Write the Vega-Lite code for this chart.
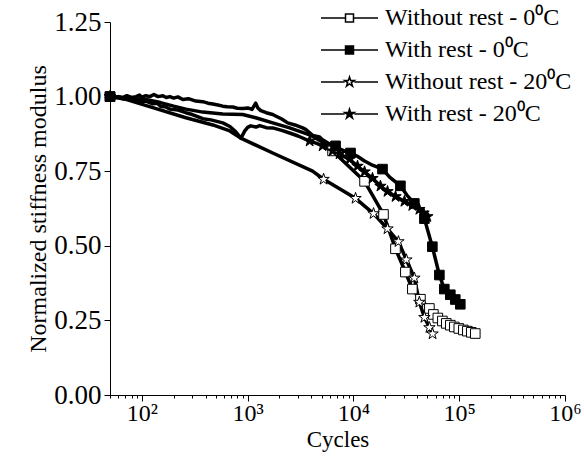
{
  "$schema": "https://vega.github.io/schema/vega-lite/v6.json",
  "width": 455,
  "height": 373,
  "autosize": {"type": "none"},
  "padding": {"left": 110, "top": 22, "right": 19, "bottom": 68},
  "background": "white",
  "config": {"view": {"stroke": null}, "font": "Liberation Serif"},
  "datasets": {
    "curves": [
      {"series": "Without rest - 0⁰C", "cycles": 50, "modulus": 1.0},
      {"series": "Without rest - 0⁰C", "cycles": 72, "modulus": 0.995},
      {"series": "Without rest - 0⁰C", "cycles": 109, "modulus": 0.99},
      {"series": "Without rest - 0⁰C", "cycles": 150, "modulus": 0.98},
      {"series": "Without rest - 0⁰C", "cycles": 200, "modulus": 0.968},
      {"series": "Without rest - 0⁰C", "cycles": 261, "modulus": 0.958},
      {"series": "Without rest - 0⁰C", "cycles": 377, "modulus": 0.948},
      {"series": "Without rest - 0⁰C", "cycles": 582, "modulus": 0.942},
      {"series": "Without rest - 0⁰C", "cycles": 899, "modulus": 0.94},
      {"series": "Without rest - 0⁰C", "cycles": 1192, "modulus": 0.929},
      {"series": "Without rest - 0⁰C", "cycles": 1726, "modulus": 0.912},
      {"series": "Without rest - 0⁰C", "cycles": 2495, "modulus": 0.895},
      {"series": "Without rest - 0⁰C", "cycles": 3855, "modulus": 0.872},
      {"series": "Without rest - 0⁰C", "cycles": 5000, "modulus": 0.85},
      {"series": "Without rest - 0⁰C", "cycles": 6350, "modulus": 0.818},
      {"series": "Without rest - 0⁰C", "cycles": 12740, "modulus": 0.716},
      {"series": "Without rest - 0⁰C", "cycles": 19240, "modulus": 0.605},
      {"series": "Without rest - 0⁰C", "cycles": 24970, "modulus": 0.49},
      {"series": "Without rest - 0⁰C", "cycles": 30980, "modulus": 0.412},
      {"series": "Without rest - 0⁰C", "cycles": 36060, "modulus": 0.355},
      {"series": "Without rest - 0⁰C", "cycles": 43000, "modulus": 0.321},
      {"series": "Without rest - 0⁰C", "cycles": 52240, "modulus": 0.29},
      {"series": "Without rest - 0⁰C", "cycles": 57000, "modulus": 0.27},
      {"series": "Without rest - 0⁰C", "cycles": 62800, "modulus": 0.258},
      {"series": "Without rest - 0⁰C", "cycles": 69300, "modulus": 0.248},
      {"series": "Without rest - 0⁰C", "cycles": 75500, "modulus": 0.24},
      {"series": "Without rest - 0⁰C", "cycles": 82400, "modulus": 0.234},
      {"series": "Without rest - 0⁰C", "cycles": 89900, "modulus": 0.228},
      {"series": "Without rest - 0⁰C", "cycles": 99100, "modulus": 0.223},
      {"series": "Without rest - 0⁰C", "cycles": 109400, "modulus": 0.218},
      {"series": "Without rest - 0⁰C", "cycles": 119400, "modulus": 0.214},
      {"series": "Without rest - 0⁰C", "cycles": 130000, "modulus": 0.21},
      {"series": "Without rest - 0⁰C", "cycles": 141900, "modulus": 0.206},

      {"series": "With rest - 0⁰C", "cycles": 50, "modulus": 1.0},
      {"series": "With rest - 0⁰C", "cycles": 55, "modulus": 0.995},
      {"series": "With rest - 0⁰C", "cycles": 60, "modulus": 1.0},
      {"series": "With rest - 0⁰C", "cycles": 66, "modulus": 0.997},
      {"series": "With rest - 0⁰C", "cycles": 72, "modulus": 1.003},
      {"series": "With rest - 0⁰C", "cycles": 80, "modulus": 0.997},
      {"series": "With rest - 0⁰C", "cycles": 88, "modulus": 1.0},
      {"series": "With rest - 0⁰C", "cycles": 95, "modulus": 1.005},
      {"series": "With rest - 0⁰C", "cycles": 100, "modulus": 0.998},
      {"series": "With rest - 0⁰C", "cycles": 109, "modulus": 1.003},
      {"series": "With rest - 0⁰C", "cycles": 119, "modulus": 1.0},
      {"series": "With rest - 0⁰C", "cycles": 130, "modulus": 1.007},
      {"series": "With rest - 0⁰C", "cycles": 142, "modulus": 1.0},
      {"series": "With rest - 0⁰C", "cycles": 158, "modulus": 1.003},
      {"series": "With rest - 0⁰C", "cycles": 170, "modulus": 0.997},
      {"series": "With rest - 0⁰C", "cycles": 184, "modulus": 1.0},
      {"series": "With rest - 0⁰C", "cycles": 200, "modulus": 0.995},
      {"series": "With rest - 0⁰C", "cycles": 219, "modulus": 0.999},
      {"series": "With rest - 0⁰C", "cycles": 244, "modulus": 0.99},
      {"series": "With rest - 0⁰C", "cycles": 275, "modulus": 0.993},
      {"series": "With rest - 0⁰C", "cycles": 324, "modulus": 0.985},
      {"series": "With rest - 0⁰C", "cycles": 377, "modulus": 0.983},
      {"series": "With rest - 0⁰C", "cycles": 421, "modulus": 0.978},
      {"series": "With rest - 0⁰C", "cycles": 469, "modulus": 0.975},
      {"series": "With rest - 0⁰C", "cycles": 523, "modulus": 0.972},
      {"series": "With rest - 0⁰C", "cycles": 582, "modulus": 0.968},
      {"series": "With rest - 0⁰C", "cycles": 640, "modulus": 0.966},
      {"series": "With rest - 0⁰C", "cycles": 723, "modulus": 0.965},
      {"series": "With rest - 0⁰C", "cycles": 800, "modulus": 0.961},
      {"series": "With rest - 0⁰C", "cycles": 900, "modulus": 0.96},
      {"series": "With rest - 0⁰C", "cycles": 1002, "modulus": 0.962},
      {"series": "With rest - 0⁰C", "cycles": 1100, "modulus": 0.957},
      {"series": "With rest - 0⁰C", "cycles": 1192, "modulus": 0.978},
      {"series": "With rest - 0⁰C", "cycles": 1250, "modulus": 0.962},
      {"series": "With rest - 0⁰C", "cycles": 1330, "modulus": 0.953},
      {"series": "With rest - 0⁰C", "cycles": 1500, "modulus": 0.946},
      {"series": "With rest - 0⁰C", "cycles": 1726, "modulus": 0.94},
      {"series": "With rest - 0⁰C", "cycles": 1841, "modulus": 0.935},
      {"series": "With rest - 0⁰C", "cycles": 2100, "modulus": 0.925},
      {"series": "With rest - 0⁰C", "cycles": 2389, "modulus": 0.912},
      {"series": "With rest - 0⁰C", "cycles": 2800, "modulus": 0.905},
      {"series": "With rest - 0⁰C", "cycles": 3311, "modulus": 0.895},
      {"series": "With rest - 0⁰C", "cycles": 3533, "modulus": 0.89},
      {"series": "With rest - 0⁰C", "cycles": 4113, "modulus": 0.87},
      {"series": "With rest - 0⁰C", "cycles": 4790, "modulus": 0.865},
      {"series": "With rest - 0⁰C", "cycles": 5112, "modulus": 0.855},
      {"series": "With rest - 0⁰C", "cycles": 5950, "modulus": 0.841},
      {"series": "With rest - 0⁰C", "cycles": 6780, "modulus": 0.835},
      {"series": "With rest - 0⁰C", "cycles": 7390, "modulus": 0.825},
      {"series": "With rest - 0⁰C", "cycles": 8200, "modulus": 0.818},
      {"series": "With rest - 0⁰C", "cycles": 9390, "modulus": 0.811},
      {"series": "With rest - 0⁰C", "cycles": 10900, "modulus": 0.8},
      {"series": "With rest - 0⁰C", "cycles": 12740, "modulus": 0.784},
      {"series": "With rest - 0⁰C", "cycles": 15140, "modulus": 0.77},
      {"series": "With rest - 0⁰C", "cycles": 18830, "modulus": 0.757},
      {"series": "With rest - 0⁰C", "cycles": 22000, "modulus": 0.73},
      {"series": "With rest - 0⁰C", "cycles": 27810, "modulus": 0.701},
      {"series": "With rest - 0⁰C", "cycles": 32000, "modulus": 0.67},
      {"series": "With rest - 0⁰C", "cycles": 37660, "modulus": 0.642},
      {"series": "With rest - 0⁰C", "cycles": 42000, "modulus": 0.62},
      {"series": "With rest - 0⁰C", "cycles": 46880, "modulus": 0.591},
      {"series": "With rest - 0⁰C", "cycles": 55720, "modulus": 0.497},
      {"series": "With rest - 0⁰C", "cycles": 64930, "modulus": 0.402},
      {"series": "With rest - 0⁰C", "cycles": 72300, "modulus": 0.355},
      {"series": "With rest - 0⁰C", "cycles": 82400, "modulus": 0.336},
      {"series": "With rest - 0⁰C", "cycles": 91800, "modulus": 0.32},
      {"series": "With rest - 0⁰C", "cycles": 102400, "modulus": 0.304},

      {"series": "Without rest - 20⁰C", "cycles": 50, "modulus": 1.0},
      {"series": "Without rest - 20⁰C", "cycles": 72, "modulus": 0.99},
      {"series": "Without rest - 20⁰C", "cycles": 127, "modulus": 0.963},
      {"series": "Without rest - 20⁰C", "cycles": 261, "modulus": 0.929},
      {"series": "Without rest - 20⁰C", "cycles": 469, "modulus": 0.905},
      {"series": "Without rest - 20⁰C", "cycles": 678, "modulus": 0.885},
      {"series": "Without rest - 20⁰C", "cycles": 861, "modulus": 0.861},
      {"series": "Without rest - 20⁰C", "cycles": 1726, "modulus": 0.811},
      {"series": "Without rest - 20⁰C", "cycles": 4113, "modulus": 0.75},
      {"series": "Without rest - 20⁰C", "cycles": 5224, "modulus": 0.723},
      {"series": "Without rest - 20⁰C", "cycles": 10470, "modulus": 0.659},
      {"series": "Without rest - 20⁰C", "cycles": 15490, "modulus": 0.608},
      {"series": "Without rest - 20⁰C", "cycles": 20990, "modulus": 0.557},
      {"series": "Without rest - 20⁰C", "cycles": 26640, "modulus": 0.514},
      {"series": "Without rest - 20⁰C", "cycles": 31690, "modulus": 0.453},
      {"series": "Without rest - 20⁰C", "cycles": 37700, "modulus": 0.392},
      {"series": "Without rest - 20⁰C", "cycles": 42000, "modulus": 0.311},
      {"series": "Without rest - 20⁰C", "cycles": 46900, "modulus": 0.26},
      {"series": "Without rest - 20⁰C", "cycles": 52300, "modulus": 0.226},
      {"series": "Without rest - 20⁰C", "cycles": 56000, "modulus": 0.205},

      {"series": "With rest - 20⁰C", "cycles": 50, "modulus": 1.0},
      {"series": "With rest - 20⁰C", "cycles": 55, "modulus": 0.997},
      {"series": "With rest - 20⁰C", "cycles": 60, "modulus": 0.999},
      {"series": "With rest - 20⁰C", "cycles": 66, "modulus": 0.993},
      {"series": "With rest - 20⁰C", "cycles": 72, "modulus": 0.995},
      {"series": "With rest - 20⁰C", "cycles": 80, "modulus": 0.988},
      {"series": "With rest - 20⁰C", "cycles": 88, "modulus": 0.99},
      {"series": "With rest - 20⁰C", "cycles": 100, "modulus": 0.984},
      {"series": "With rest - 20⁰C", "cycles": 109, "modulus": 0.985},
      {"series": "With rest - 20⁰C", "cycles": 127, "modulus": 0.976},
      {"series": "With rest - 20⁰C", "cycles": 140, "modulus": 0.978},
      {"series": "With rest - 20⁰C", "cycles": 150, "modulus": 0.968},
      {"series": "With rest - 20⁰C", "cycles": 170, "modulus": 0.965},
      {"series": "With rest - 20⁰C", "cycles": 184, "modulus": 0.958},
      {"series": "With rest - 20⁰C", "cycles": 220, "modulus": 0.955},
      {"series": "With rest - 20⁰C", "cycles": 261, "modulus": 0.946},
      {"series": "With rest - 20⁰C", "cycles": 300, "modulus": 0.94},
      {"series": "With rest - 20⁰C", "cycles": 377, "modulus": 0.926},
      {"series": "With rest - 20⁰C", "cycles": 450, "modulus": 0.922},
      {"series": "With rest - 20⁰C", "cycles": 582, "modulus": 0.912},
      {"series": "With rest - 20⁰C", "cycles": 680, "modulus": 0.9},
      {"series": "With rest - 20⁰C", "cycles": 773, "modulus": 0.882},
      {"series": "With rest - 20⁰C", "cycles": 861, "modulus": 0.861},
      {"series": "With rest - 20⁰C", "cycles": 900, "modulus": 0.872},
      {"series": "With rest - 20⁰C", "cycles": 940, "modulus": 0.885},
      {"series": "With rest - 20⁰C", "cycles": 1000, "modulus": 0.897},
      {"series": "With rest - 20⁰C", "cycles": 1069, "modulus": 0.902},
      {"series": "With rest - 20⁰C", "cycles": 1200, "modulus": 0.898},
      {"series": "With rest - 20⁰C", "cycles": 1300, "modulus": 0.903},
      {"series": "With rest - 20⁰C", "cycles": 1500, "modulus": 0.896},
      {"series": "With rest - 20⁰C", "cycles": 1726, "modulus": 0.895},
      {"series": "With rest - 20⁰C", "cycles": 2100, "modulus": 0.887},
      {"series": "With rest - 20⁰C", "cycles": 2495, "modulus": 0.878},
      {"series": "With rest - 20⁰C", "cycles": 3000, "modulus": 0.868},
      {"series": "With rest - 20⁰C", "cycles": 3855, "modulus": 0.851},
      {"series": "With rest - 20⁰C", "cycles": 4500, "modulus": 0.843},
      {"series": "With rest - 20⁰C", "cycles": 5112, "modulus": 0.835},
      {"series": "With rest - 20⁰C", "cycles": 6350, "modulus": 0.818},
      {"series": "With rest - 20⁰C", "cycles": 7390, "modulus": 0.808},
      {"series": "With rest - 20⁰C", "cycles": 9190, "modulus": 0.79},
      {"series": "With rest - 20⁰C", "cycles": 10930, "modulus": 0.767},
      {"series": "With rest - 20⁰C", "cycles": 12740, "modulus": 0.748},
      {"series": "With rest - 20⁰C", "cycles": 15140, "modulus": 0.726},
      {"series": "With rest - 20⁰C", "cycles": 18000, "modulus": 0.7},
      {"series": "With rest - 20⁰C", "cycles": 20990, "modulus": 0.682},
      {"series": "With rest - 20⁰C", "cycles": 25000, "modulus": 0.665},
      {"series": "With rest - 20⁰C", "cycles": 30340, "modulus": 0.649},
      {"series": "With rest - 20⁰C", "cycles": 36000, "modulus": 0.635},
      {"series": "With rest - 20⁰C", "cycles": 42010, "modulus": 0.622},
      {"series": "With rest - 20⁰C", "cycles": 46000, "modulus": 0.61},
      {"series": "With rest - 20⁰C", "cycles": 50000, "modulus": 0.598}
    ],
    "markers": [
      {"series": "Without rest - 0⁰C", "cycles": 50, "modulus": 1.0},
      {"series": "Without rest - 0⁰C", "cycles": 6350, "modulus": 0.818},
      {"series": "Without rest - 0⁰C", "cycles": 12740, "modulus": 0.716},
      {"series": "Without rest - 0⁰C", "cycles": 19240, "modulus": 0.605},
      {"series": "Without rest - 0⁰C", "cycles": 24970, "modulus": 0.49},
      {"series": "Without rest - 0⁰C", "cycles": 30980, "modulus": 0.412},
      {"series": "Without rest - 0⁰C", "cycles": 36060, "modulus": 0.355},
      {"series": "Without rest - 0⁰C", "cycles": 43000, "modulus": 0.321},
      {"series": "Without rest - 0⁰C", "cycles": 52240, "modulus": 0.29},
      {"series": "Without rest - 0⁰C", "cycles": 57000, "modulus": 0.27},
      {"series": "Without rest - 0⁰C", "cycles": 62800, "modulus": 0.258},
      {"series": "Without rest - 0⁰C", "cycles": 69300, "modulus": 0.248},
      {"series": "Without rest - 0⁰C", "cycles": 75500, "modulus": 0.24},
      {"series": "Without rest - 0⁰C", "cycles": 82400, "modulus": 0.234},
      {"series": "Without rest - 0⁰C", "cycles": 89900, "modulus": 0.228},
      {"series": "Without rest - 0⁰C", "cycles": 99100, "modulus": 0.223},
      {"series": "Without rest - 0⁰C", "cycles": 109400, "modulus": 0.218},
      {"series": "Without rest - 0⁰C", "cycles": 119400, "modulus": 0.214},
      {"series": "Without rest - 0⁰C", "cycles": 130000, "modulus": 0.21},
      {"series": "Without rest - 0⁰C", "cycles": 141900, "modulus": 0.206},

      {"series": "With rest - 0⁰C", "cycles": 50, "modulus": 1.0},
      {"series": "With rest - 0⁰C", "cycles": 6780, "modulus": 0.835},
      {"series": "With rest - 0⁰C", "cycles": 9390, "modulus": 0.811},
      {"series": "With rest - 0⁰C", "cycles": 18830, "modulus": 0.757},
      {"series": "With rest - 0⁰C", "cycles": 27810, "modulus": 0.701},
      {"series": "With rest - 0⁰C", "cycles": 37660, "modulus": 0.642},
      {"series": "With rest - 0⁰C", "cycles": 46880, "modulus": 0.591},
      {"series": "With rest - 0⁰C", "cycles": 55720, "modulus": 0.497},
      {"series": "With rest - 0⁰C", "cycles": 64930, "modulus": 0.402},
      {"series": "With rest - 0⁰C", "cycles": 72300, "modulus": 0.355},
      {"series": "With rest - 0⁰C", "cycles": 82400, "modulus": 0.336},
      {"series": "With rest - 0⁰C", "cycles": 91800, "modulus": 0.32},
      {"series": "With rest - 0⁰C", "cycles": 102400, "modulus": 0.304},

      {"series": "Without rest - 20⁰C", "cycles": 50, "modulus": 1.0},
      {"series": "Without rest - 20⁰C", "cycles": 5224, "modulus": 0.723},
      {"series": "Without rest - 20⁰C", "cycles": 10470, "modulus": 0.659},
      {"series": "Without rest - 20⁰C", "cycles": 15490, "modulus": 0.608},
      {"series": "Without rest - 20⁰C", "cycles": 20990, "modulus": 0.557},
      {"series": "Without rest - 20⁰C", "cycles": 26640, "modulus": 0.514},
      {"series": "Without rest - 20⁰C", "cycles": 31690, "modulus": 0.453},
      {"series": "Without rest - 20⁰C", "cycles": 37700, "modulus": 0.392},
      {"series": "Without rest - 20⁰C", "cycles": 42000, "modulus": 0.311},
      {"series": "Without rest - 20⁰C", "cycles": 46900, "modulus": 0.26},
      {"series": "Without rest - 20⁰C", "cycles": 52300, "modulus": 0.226},
      {"series": "Without rest - 20⁰C", "cycles": 56000, "modulus": 0.205},

      {"series": "With rest - 20⁰C", "cycles": 50, "modulus": 1.0},
      {"series": "With rest - 20⁰C", "cycles": 3855, "modulus": 0.851},
      {"series": "With rest - 20⁰C", "cycles": 5112, "modulus": 0.835},
      {"series": "With rest - 20⁰C", "cycles": 6350, "modulus": 0.818},
      {"series": "With rest - 20⁰C", "cycles": 7390, "modulus": 0.808},
      {"series": "With rest - 20⁰C", "cycles": 9190, "modulus": 0.79},
      {"series": "With rest - 20⁰C", "cycles": 10930, "modulus": 0.767},
      {"series": "With rest - 20⁰C", "cycles": 12740, "modulus": 0.748},
      {"series": "With rest - 20⁰C", "cycles": 15140, "modulus": 0.726},
      {"series": "With rest - 20⁰C", "cycles": 18000, "modulus": 0.7},
      {"series": "With rest - 20⁰C", "cycles": 20990, "modulus": 0.682},
      {"series": "With rest - 20⁰C", "cycles": 25000, "modulus": 0.665},
      {"series": "With rest - 20⁰C", "cycles": 30340, "modulus": 0.649},
      {"series": "With rest - 20⁰C", "cycles": 36000, "modulus": 0.635},
      {"series": "With rest - 20⁰C", "cycles": 42010, "modulus": 0.622},
      {"series": "With rest - 20⁰C", "cycles": 46000, "modulus": 0.61},
      {"series": "With rest - 20⁰C", "cycles": 50000, "modulus": 0.598}
    ]
  },
  "resolve": {"scale": {"shape": "independent", "fill": "independent"}},
  "layer": [
    {
      "data": {"name": "curves"},
      "mark": {"type": "line", "color": "black", "strokeWidth": 3.5, "strokeJoin": "round"},
      "encoding": {
        "x": {
          "field": "cycles", "type": "quantitative",
          "scale": {"type": "log", "domain": [50, 1000000], "nice": false},
          "axis": {
            "title": "Cycles",
            "values": [50, 60, 70, 80, 90, 100, 200, 300, 400, 500, 600, 700, 800, 900, 1000, 2000, 3000, 4000, 5000, 6000, 7000, 8000, 9000, 10000, 20000, 30000, 40000, 50000, 60000, 70000, 80000, 90000, 100000, 200000, 300000, 400000, 500000, 600000, 700000, 800000, 900000, 1000000],
            "labelExpr": "abs(log(datum.value)/LN10 - round(log(datum.value)/LN10)) < 0.01 ? '10' + ['⁰','¹','²','³','⁴','⁵','⁶'][round(log(datum.value)/LN10)] : ''",
            "tickSize": {"condition": {"test": "abs(log(datum.value)/LN10 - round(log(datum.value)/LN10)) < 0.01", "value": 6}, "value": 3},
            "grid": false,
            "domainColor": "black", "tickColor": "black", "tickWidth": 1, "domainWidth": 1,
            "labelFont": "Liberation Serif", "labelFontSize": 24, "labelColor": "black",
            "labelPadding": 0, "labelFlush": false, "labelOverlap": false,
            "titleFont": "Liberation Serif", "titleFontSize": 23, "titleFontWeight": "normal", "titleColor": "black",
            "titlePadding": 3
          }
        },
        "y": {
          "field": "modulus", "type": "quantitative",
          "scale": {"domain": [0, 1.25], "nice": false},
          "axis": {
            "title": "Normalized stiffness modulus",
            "values": [0, 0.125, 0.25, 0.375, 0.5, 0.625, 0.75, 0.875, 1, 1.125, 1.25],
            "labelExpr": "abs(datum.value*4 - round(datum.value*4)) < 0.01 ? format(datum.value, '.2f') : ''",
            "tickSize": {"condition": {"test": "abs(datum.value*4 - round(datum.value*4)) < 0.01", "value": 6}, "value": 3},
            "grid": false,
            "domainColor": "black", "tickColor": "black", "tickWidth": 1, "domainWidth": 1,
            "labelFont": "Liberation Serif", "labelFontSize": 27, "labelColor": "black",
            "labelPadding": 3, "labelFlush": false, "labelOverlap": false,
            "titleFont": "Liberation Serif", "titleFontSize": 24, "titleFontWeight": "normal", "titleColor": "black",
            "titlePadding": 3
          }
        },
        "detail": {"field": "series", "type": "nominal"}
      }
    },
    {
      "data": {"name": "markers"},
      "mark": {"type": "point", "filled": true, "stroke": "black", "strokeWidth": 1, "opacity": 1, "size": 144},
      "encoding": {
        "x": {"field": "cycles", "type": "quantitative"},
        "y": {"field": "modulus", "type": "quantitative"},
        "shape": {
          "field": "series", "type": "nominal", "legend": null,
          "scale": {
            "domain": ["Without rest - 0⁰C", "With rest - 0⁰C", "Without rest - 20⁰C", "With rest - 20⁰C"],
            "range": [
              "M-0.8,-0.8L0.8,-0.8L0.8,0.8L-0.8,0.8Z",
              "M-0.8,-0.8L0.8,-0.8L0.8,0.8L-0.8,0.8Z",
              "M0,-1L0.2245,-0.309L0.951,-0.309L0.363,0.118L0.588,0.809L0,0.382L-0.588,0.809L-0.363,0.118L-0.951,-0.309L-0.2245,-0.309Z",
              "M0,-1L0.2245,-0.309L0.951,-0.309L0.363,0.118L0.588,0.809L0,0.382L-0.588,0.809L-0.363,0.118L-0.951,-0.309L-0.2245,-0.309Z"
            ]
          }
        },
        "fill": {
          "field": "series", "type": "nominal", "legend": null,
          "scale": {
            "domain": ["Without rest - 0⁰C", "With rest - 0⁰C", "Without rest - 20⁰C", "With rest - 20⁰C"],
            "range": ["white", "black", "white", "black"]
          }
        }
      }
    },
    {
      "data": {"name": "markers"},
      "transform": [{"filter": "false"}],
      "mark": {"type": "point", "filled": true, "stroke": "black", "opacity": 1, "size": 3249},
      "encoding": {
        "shape": {
          "field": "series", "type": "nominal",
          "scale": {
            "domain": ["Without rest - 0⁰C", "With rest - 0⁰C", "Without rest - 20⁰C", "With rest - 20⁰C"],
            "range": [
              "M-1,0L-0.14,0M-0.14,-0.14L0.14,-0.14L0.14,0.14L-0.14,0.14ZM0.14,0L1,0",
              "M-1,0L-0.14,0M-0.14,-0.14L0.14,-0.14L0.14,0.14L-0.14,0.14ZM0.14,0L1,0",
              "M-1,0L-0.17,0M0,-0.18L0.04,-0.056L0.171,-0.056L0.065,0.021L0.106,0.146L0,0.069L-0.106,0.146L-0.065,0.021L-0.171,-0.056L-0.04,-0.056ZM0.17,0L1,0",
              "M-1,0L-0.17,0M0,-0.18L0.04,-0.056L0.171,-0.056L0.065,0.021L0.106,0.146L0,0.069L-0.106,0.146L-0.065,0.021L-0.171,-0.056L-0.04,-0.056ZM0.17,0L1,0"
            ]
          },
          "legend": {
            "orient": "none", "legendX": 210, "legendY": -16, "title": null,
            "clipHeight": 24, "rowPadding": 8, "padding": 0,
            "symbolSize": 3249, "symbolOffset": 0,
            "labelFont": "Liberation Serif", "labelFontSize": 24, "labelColor": "black",
            "labelOffset": 6, "labelLimit": 300,
            "encode": {"symbols": {"update": {"stroke": {"value": "black"}, "strokeWidth": {"value": 1.8}, "opacity": {"value": 1}}}}
          }
        },
        "fill": {
          "field": "series", "type": "nominal",
          "scale": {
            "domain": ["Without rest - 0⁰C", "With rest - 0⁰C", "Without rest - 20⁰C", "With rest - 20⁰C"],
            "range": ["white", "black", "white", "black"]
          },
          "legend": {
            "orient": "none", "legendX": 210, "legendY": -16, "title": null,
            "clipHeight": 24, "rowPadding": 8, "padding": 0,
            "symbolSize": 3249, "symbolOffset": 0,
            "labelFont": "Liberation Serif", "labelFontSize": 24, "labelColor": "black",
            "labelOffset": 6, "labelLimit": 300,
            "encode": {"symbols": {"update": {"stroke": {"value": "black"}, "strokeWidth": {"value": 1.8}, "opacity": {"value": 1}}}}
          }
        }
      }
    }
  ]
}
